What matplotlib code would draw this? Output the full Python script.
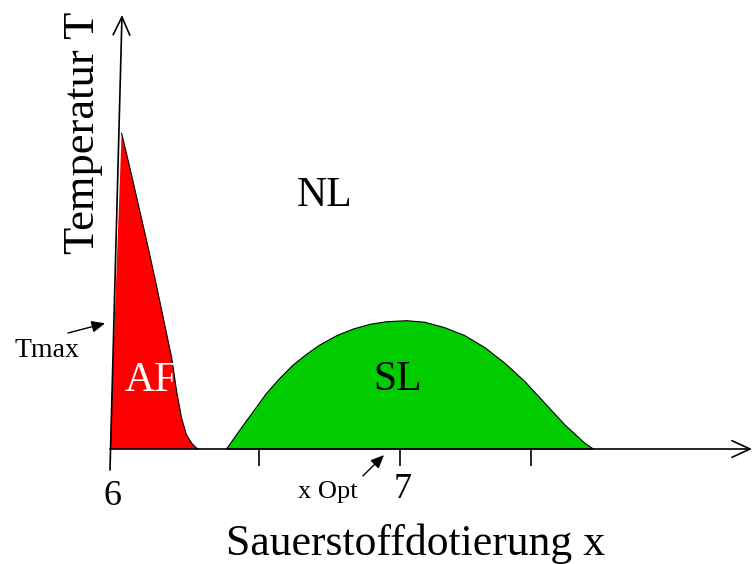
import matplotlib
matplotlib.use("Agg")
import matplotlib.pyplot as plt

# schematic phase diagram: doping x vs. temperature T (arbitrary units, SL max = 100)
af_x = [6.000, 6.040, 6.069, 6.098, 6.127, 6.155, 6.184, 6.213, 6.230, 6.247, 6.264,
        6.282, 6.297, 6.303]
af_T = [0.0, 246.1, 218.8, 190.2, 161.6, 133.0, 101.9, 70.7, 44.7, 23.9, 10.9,
        4.4, 1.0, 0.0]

sl_x = [6.402, 6.448, 6.494, 6.540, 6.586, 6.632, 6.678, 6.724, 6.782, 6.839, 6.897,
        6.954, 7.023, 7.086, 7.155, 7.224, 7.293, 7.362, 7.431, 7.500, 7.569, 7.638, 7.667]
sl_T = [0.0, 14.8, 29.1, 43.4, 55.1, 65.5, 73.8, 81.1, 88.3, 93.5, 97.2,
        99.2, 100.0, 98.8, 94.5, 88.3, 79.0, 66.8, 52.5, 35.6, 18.7, 4.4, 0.0]

tick_x = [6.0, 6.514, 7.0, 7.452]
tick_labels = ["6", "", "7", ""]
tmax = 98.0
x_opt = 6.945

plt.rcParams['font.family'] = ['Liberation Serif', 'DejaVu Serif']

fig = plt.figure(figsize=(7.52, 5.64), dpi=100)
ax = fig.add_axes([0, 0, 1, 1])
ax.set_xlim(5.6207, 8.2138)
ax.set_ylim(-89.63, 349.96)
ax.axis('off')

# phase regions
ax.fill(af_x, af_T, color='#ff0000', lw=0)
ax.plot(af_x[1:], af_T[1:], color='black', lw=0.8)
ax.fill(sl_x, sl_T, facecolor='#00cc00', edgecolor='black', lw=0.8)

# axes with open arrowheads (y axis is drawn slightly tilted, like the original sketch)
arrow = dict(arrowstyle='->, head_length=1.3, head_width=0.6', mutation_scale=10,
             color='black', lw=1.2, shrinkA=0, shrinkB=0)
ax.annotate('', xy=(6.0414, 338.3), xytext=(6.0, -16.4), arrowprops=arrow)
ax.annotate('', xy=(8.2138, 0), xytext=(6.0, 0), arrowprops=arrow)

# ticks below the x axis
ax.vlines(tick_x[1:], -13.3, 0, color='black', lw=1.2)
label_y = {"6": -43.6, "7": -38.2}
for xt, lab in zip(tick_x, tick_labels):
    if lab:
        ax.text(xt + 0.008, label_y[lab], lab, fontsize=26, ha='center', va='baseline')

# axis titles
ax.text(5.907, 246.3, 'Temperatur T', fontsize=32, rotation=90, ha='center', va='center')
ax.text(7.052, -82.6, 'Sauerstoffdotierung x', fontsize=31.5, ha='center', va='baseline')

# region labels
ax.text(6.741, 197.2, 'NL', fontsize=30, ha='center', va='center')
ax.text(6.993, 53.8, 'SL', fontsize=30, ha='center', va='center')
ax.text(6.052, 53.0, 'AF', fontsize=30, ha='left', va='center', color='white')

# small annotations
small = dict(arrowstyle='-|>, head_length=0.8, head_width=0.35', mutation_scale=10,
             color='black', lw=1.0, shrinkA=0, shrinkB=0)
ax.annotate('', xy=(5.983, tmax), xytext=(5.855, 90.4), arrowprops=small)
ax.text(5.783, 71.7, 'Tmax', fontsize=20, ha='center', va='baseline')
ax.annotate('', xy=(x_opt, -4.7), xytext=(6.872, -21.0), arrowprops=small)
ax.text(6.752, -38.2, 'x Opt', fontsize=19, ha='center', va='baseline')

fig.savefig('out.png', dpi=100)
